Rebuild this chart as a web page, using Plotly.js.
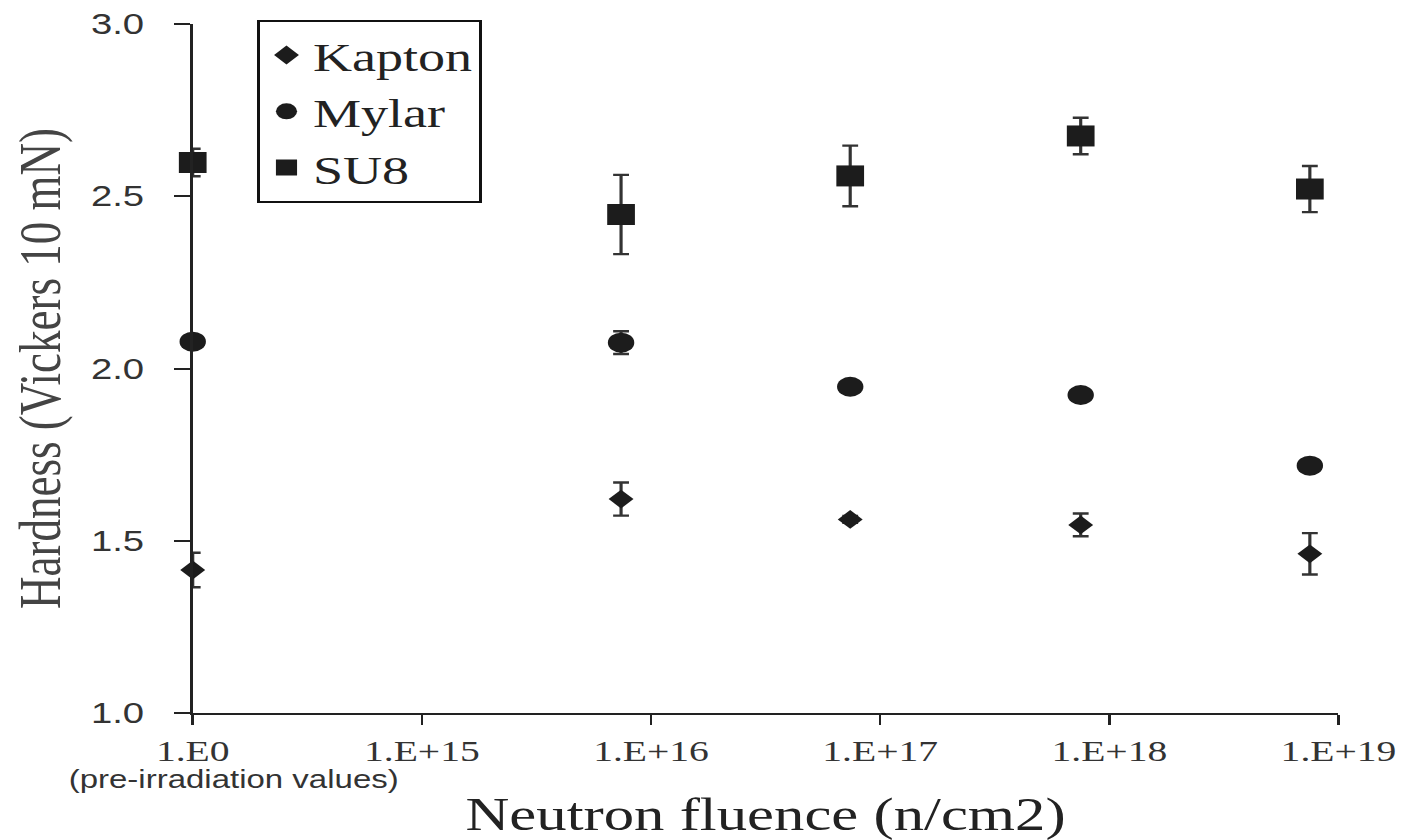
<!DOCTYPE html>
<html>
<head>
<meta charset="utf-8">
<script src="https://cdn.plot.ly/plotly-3.0.1.min.js"></script>
<style>
  html, body { margin: 0; padding: 0; background: #fff; overflow: hidden; }
  #wrap { width: 1407px; height: 840px; overflow: hidden; }
  #chart { width: 1066px; height: 840px; transform: scaleX(1.32); transform-origin: 0 0; }
</style>
</head>
<body>
<div id="wrap"><div id="chart"></div></div>
<script>
// Data
const fluence = [1, 7.4e15, 7.4e16, 7.5e17, 7.5e18];          // n/cm2 (1 = pre-irradiation)
const kapton = [1.415, 1.621, 1.562, 1.546, 1.462];
const kaptonErr = [0.05, 0.048, 0.01, 0.033, 0.06];
const mylar = [2.078, 2.075, 1.947, 1.923, 1.718];
const mylarErr = [0.01, 0.033, 0.01, 0.01, 0.01];
const su8 = [2.598, 2.447, 2.559, 2.675, 2.521];
const su8Err = [0.04, 0.115, 0.088, 0.053, 0.067];
const tickFluence = [1, 1e15, 1e16, 1e17, 1e18, 1e19];
const tickLabels = ['1.E0', '1.E+15', '1.E+16', '1.E+17', '1.E+18', '1.E+19'];

// Broken log axis: 1.E0 sits one decade-step before 1.E+15
function pos(f) { return f <= 1 ? 0 : Math.log10(f) - 14; }
const xs = fluence.map(pos);
const tickvals = tickFluence.map(pos);

const ink = '#1c1c1c';
function errCfg(arr) {
  return { type: 'data', array: arr, visible: true, color: '#333', thickness: 2.4, width: 6 };
}
const serif = '"Liberation Serif", "Times New Roman", serif';
const sans = '"Liberation Sans", Arial, sans-serif';

const traces = [
  { name: 'Kapton', x: xs, y: kapton, error_y: errCfg(kaptonErr), mode: 'markers', type: 'scatter',
    marker: { symbol: 'diamond', size: 14.5, color: ink }, cliponaxis: false },
  { name: 'Mylar', x: xs, y: mylar, error_y: errCfg(mylarErr), mode: 'markers', type: 'scatter',
    marker: { symbol: 'circle', size: 20, color: ink }, cliponaxis: false },
  { name: 'SU8', x: xs, y: su8, error_y: errCfg(su8Err), mode: 'markers', type: 'scatter',
    marker: { symbol: 'square', size: 21, color: ink }, cliponaxis: false }
];

const layout = {
  width: 1066, height: 840,
  margin: { l: 146, r: 52, t: 24, b: 127 },
  paper_bgcolor: '#fff', plot_bgcolor: '#fff',
  showlegend: true,
  legend: {
    x: 0.0565, y: 1.006, xanchor: 'left', yanchor: 'top',
    bordercolor: '#111', borderwidth: 2, bgcolor: '#fff',
    font: { family: serif, size: 41, color: '#222' },
    itemsizing: 'trace'
  },
  xaxis: {
    range: [0, 5], tickvals: tickvals, ticktext: tickLabels,
    showline: true, linecolor: '#222', linewidth: 2,
    ticks: 'outside', ticklen: 10, tickwidth: 2, tickcolor: '#222',
    showgrid: false, zeroline: false,
    tickfont: { family: serif, size: 30, color: '#333' },
    title: { text: 'Neutron fluence (n/cm2)', font: { family: serif, size: 46, color: '#222' }, standoff: 32 }
  },
  yaxis: {
    range: [1, 3], dtick: 0.5, tick0: 1, tickformat: '.1f',
    showline: true, linecolor: '#222', linewidth: 2,
    ticks: 'outside', ticklen: 12, tickwidth: 2, tickcolor: '#222',
    ticklabelstandoff: 17,
    showgrid: false, zeroline: false,
    tickfont: { family: sans, size: 29, color: '#333' },
    title: { text: 'Hardness (Vickers 10 mN)', font: { family: serif, size: 45, color: '#444' }, standoff: 9 }
  },
  annotations: [
    { text: '(pre-irradiation values)', x: 0, xref: 'x', y: -0.096, yref: 'paper',
      xanchor: 'center', yanchor: 'middle', xshift: 31, showarrow: false,
      font: { family: sans, size: 25, color: '#333' } }
  ]
};

Plotly.newPlot('chart', traces, layout, { displayModeBar: false, staticPlot: true });
</script>
</body>
</html>
